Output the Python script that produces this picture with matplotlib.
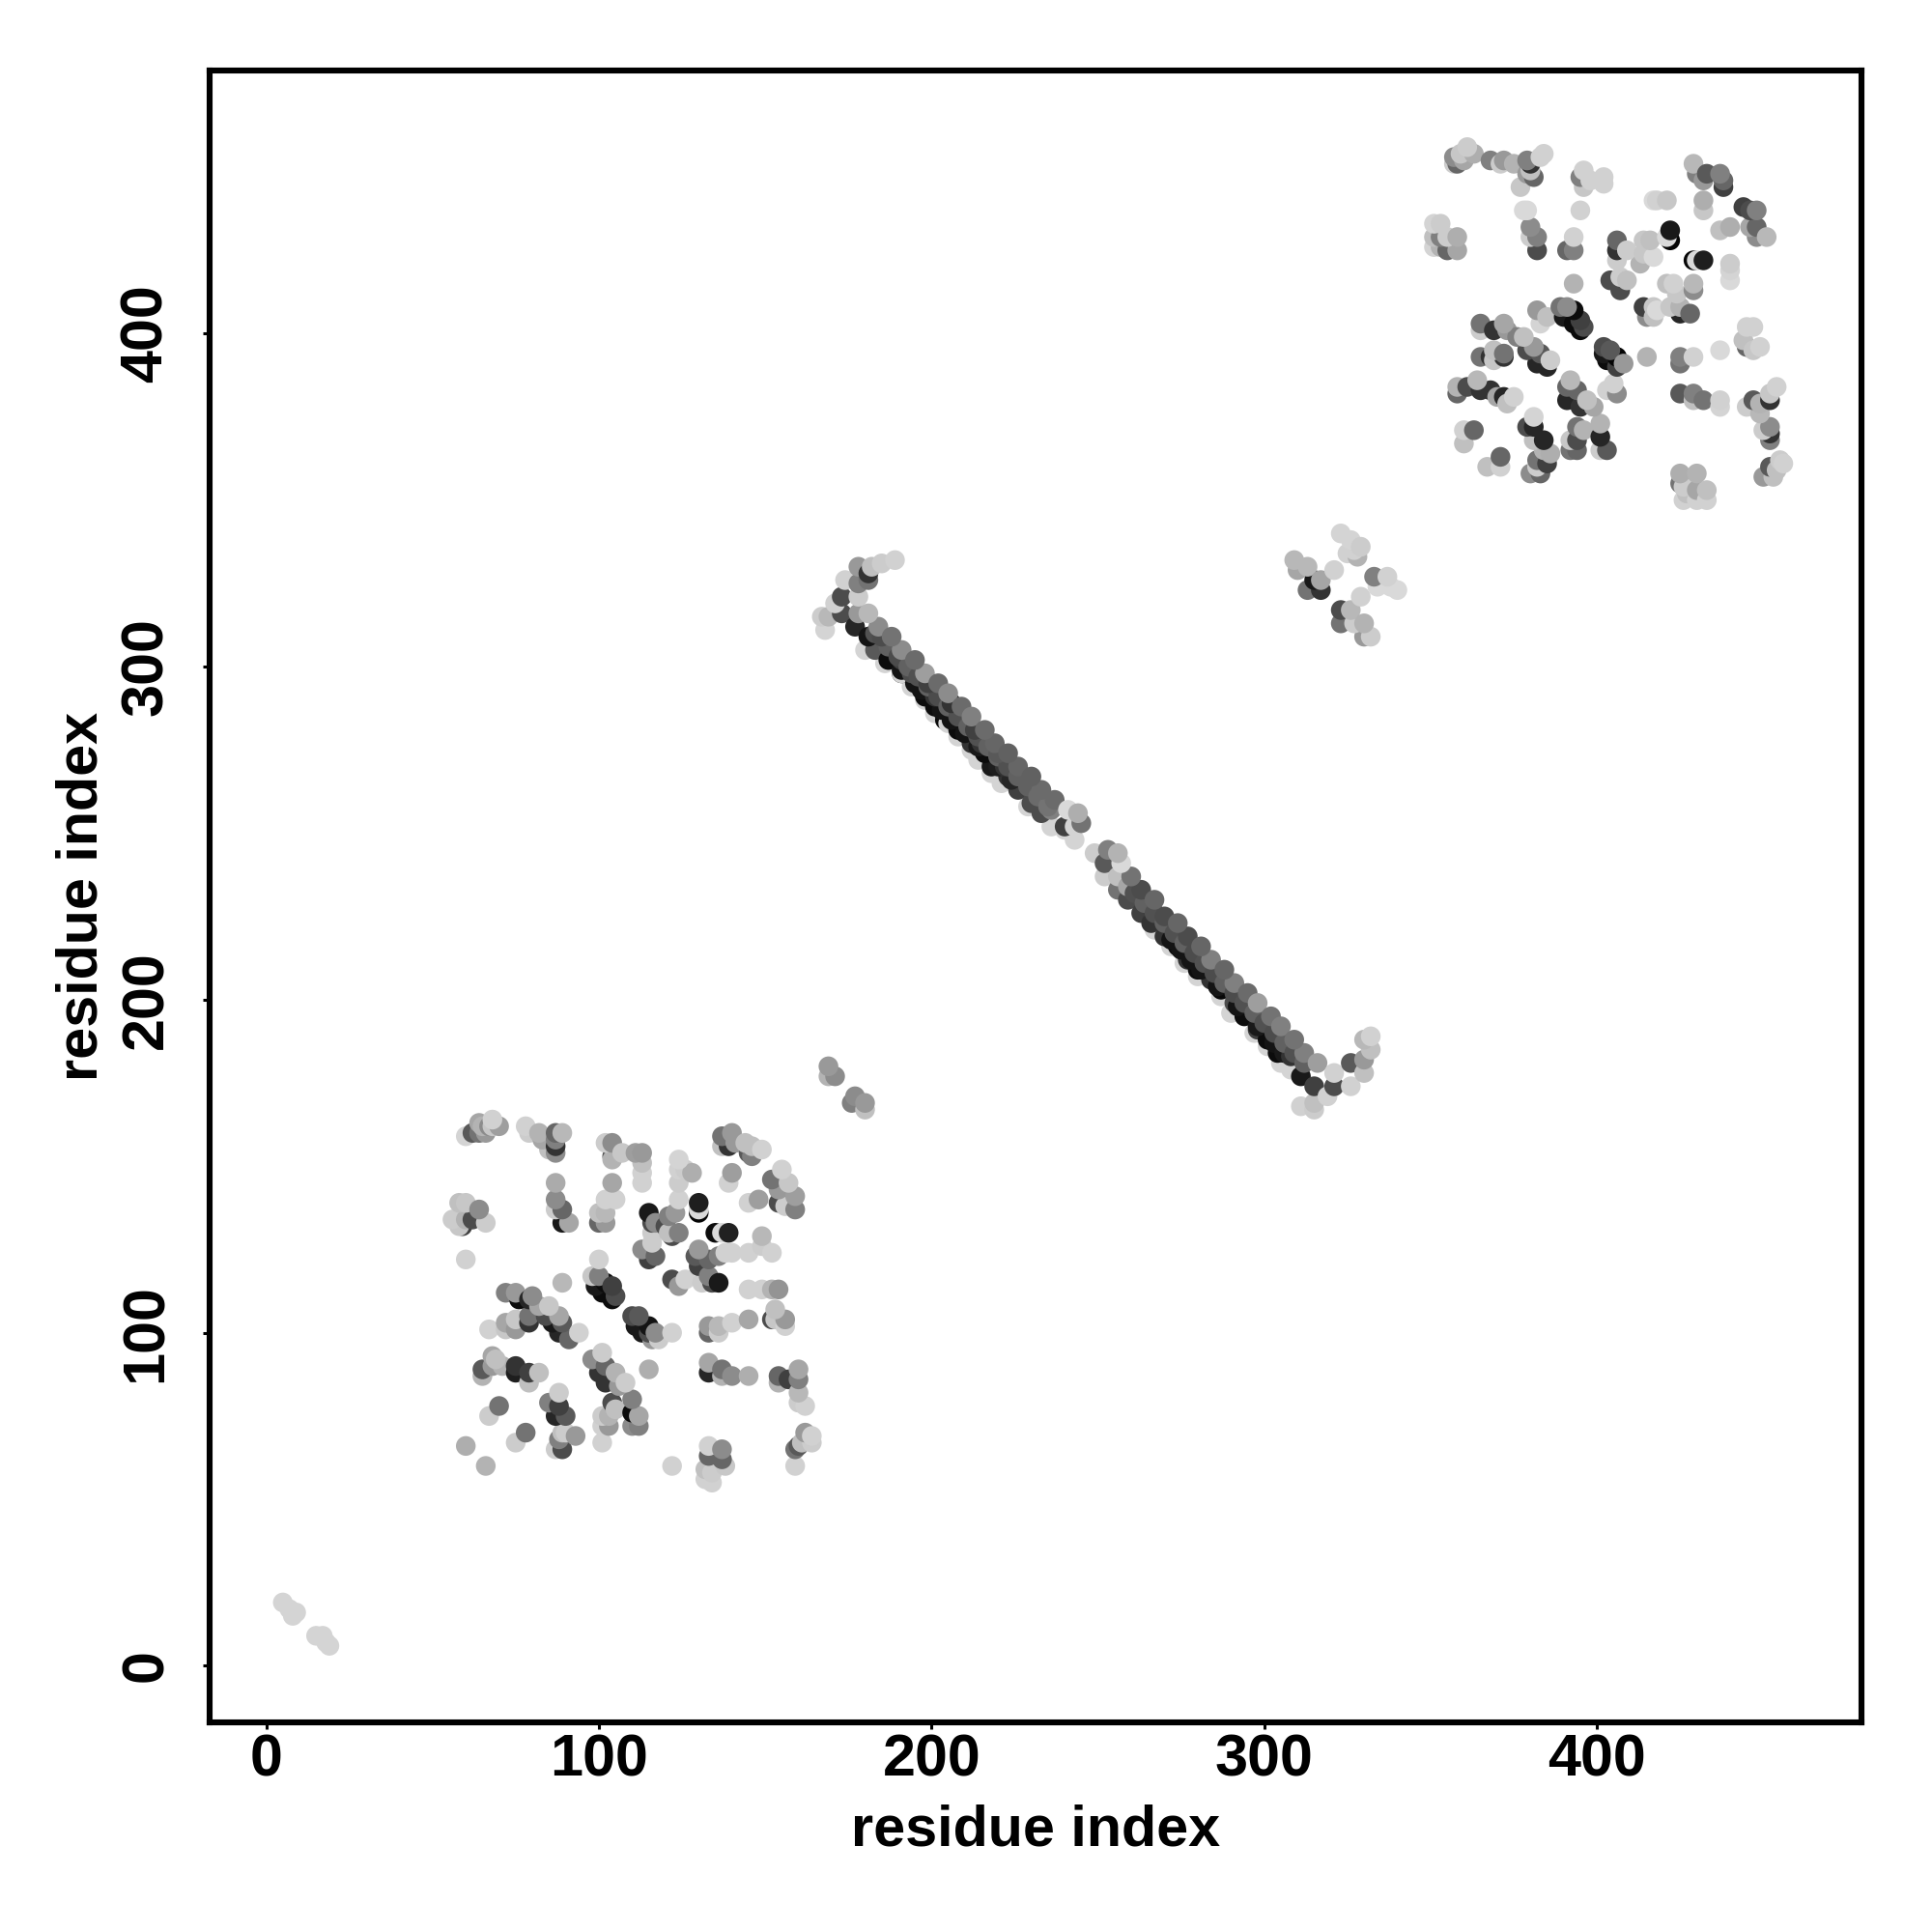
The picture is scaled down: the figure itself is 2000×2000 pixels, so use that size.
import matplotlib
matplotlib.use('Agg')
import matplotlib.pyplot as plt
import numpy as np

plt.rcParams['font.family'] = ['Liberation Sans', 'DejaVu Sans']
plt.rcParams['font.weight'] = 'bold'

# contacts: residue i, residue j, grey level of each point
low_x = [5, 7, 8, 9, 15, 17, 18, 19]
low_y = [19, 17, 15, 16, 9, 9, 7, 6]
low_gray = [.83, .83, .83, .83, .83, .83, .83, .83]

c1_x = [60, 64, 62, 64, 65, 66, 68, 67, 68, 70,
        78, 79, 82, 83, 85, 87, 87, 87, 87, 89,
        104, 102, 104, 104, 107, 111, 113, 113, 113, 113,
        104, 87, 87, 87, 89, 89, 91, 100, 102, 105,
        102, 100, 102, 124, 124, 124, 126, 128, 137, 137,
        140, 139, 141, 144, 145, 146, 146, 149, 140, 139,
        145, 148, 155, 152, 157, 154, 154, 156, 159, 159,
        56, 58, 60, 58, 59, 60, 64, 62, 66, 60,
        100, 89, 130, 130, 130, 115, 116, 117, 116, 121,
        124, 123, 120, 121, 124, 122, 113, 116, 115, 117,
        135, 139, 137, 140, 145, 149, 149, 152, 129, 130,
        133, 136, 138, 130, 133, 131, 134, 136, 122, 124,
        126, 98, 100, 99, 102, 101, 104, 104, 105, 110,
        111, 112, 113, 115, 115, 117, 118, 122, 116, 72,
        75, 76, 80, 79, 82, 85, 84, 88, 86, 89,
        88, 91, 94, 67, 72, 72, 75, 75, 79, 79,
        133, 133, 136, 136, 140, 145, 145, 149, 152, 154,
        153, 153, 156, 156, 152, 68, 65, 65, 68, 69,
        71, 75, 75, 79, 79, 82, 70, 67, 78, 75,
        60, 66, 88, 85, 88, 87, 90, 89, 93, 90,
        88, 87, 89, 98, 101, 102, 100, 105, 102, 108,
        106, 104, 105, 110, 110, 112, 112, 110, 101, 103,
        101, 101, 103, 115, 122, 133, 133, 137, 137, 140,
        145, 154, 154, 157, 160, 160, 160, 160, 162, 133,
        133, 137, 132, 132, 134, 134, 138, 137, 159, 159,
        162, 160, 161, 164, 164]
c1_y = [159, 163, 160, 160, 162, 160, 164, 162, 162, 162,
        162, 160, 160, 158, 155, 154, 156, 160, 158, 160,
        157, 157, 153, 152, 154, 154, 154, 151, 148, 145,
        145, 145, 140, 137, 137, 133, 133, 136, 140, 140,
        136, 133, 133, 152, 145, 149, 149, 148, 159, 156,
        160, 156, 157, 157, 154, 153, 156, 155, 148, 145,
        139, 140, 149, 146, 145, 143, 139, 138, 141, 137,
        134, 139, 139, 132, 132, 134, 137, 134, 133, 122,
        122, 115, 139, 136, 137, 136, 133, 133, 130, 135,
        140, 136, 132, 130, 130, 129, 125, 127, 122, 123,
        130, 130, 130, 124, 124, 129, 126, 124, 123, 125,
        122, 123, 124, 120, 117, 115, 115, 115, 116, 114,
        116, 117, 117, 114, 115, 112, 114, 110, 111, 105,
        102, 105, 100, 102, 100, 100, 98, 100, 98, 112,
        112, 110, 111, 110, 108, 108, 105, 105, 103, 103,
        100, 98, 100, 101, 103, 101, 104, 101, 105, 103,
        102, 100, 102, 100, 103, 104, 113, 113, 113, 113,
        107, 104, 102, 104, 104, 93, 89, 87, 90, 92,
        90, 90, 88, 88, 85, 88, 78, 75, 70, 67,
        66, 60, 82, 79, 78, 75, 75, 70, 69, 70,
        68, 65, 65, 92, 94, 90, 88, 88, 85, 85,
        84, 79, 77, 80, 76, 75, 72, 72, 75, 72,
        72, 67, 75, 89, 60, 91, 88, 89, 87, 87,
        87, 87, 85, 86, 89, 86, 82, 79, 78, 66,
        63, 65, 59, 56, 55, 58, 60, 62, 60, 65,
        70, 66, 67, 69, 67]
c1_gray = [.83, .65, .35, .45, .7, .6, .82, .55, .78, .62,
           .82, .8, .7, .65, .75, .55, .2, .4, .5, .72,
           .55, .8, .3, .7, .78, .62, .6, .75, .82, .82,
           .65, .67, .55, .8, .4, .1, .65, .75, .82, .82,
           .72, .4, .6, .83, .8, .82, .8, .68, .45, .75,
           .6, .2, .6, .75, .35, .5, .75, .82, .62, .82,
           .82, .62, .82, .45, .78, .6, .3, .8, .62, .5,
           .8, .75, .78, .78, .25, .7, .55, .3, .8, .82,
           .82, .72, .12, .02, .85, .1, .3, .55, .8, .5,
           .82, .6, .3, .75, .5, .3, .55, .8, .25, .4,
           .05, .13, .85, .82, .82, .72, .8, .82, .35, .6,
           .4, .5, .82, .25, .5, .8, .3, .1, .3, .6,
           .82, .78, .5, .1, .05, .05, .25, .05, .3, .3,
           .1, .35, .1, .08, .3, .55, .8, .82, .6, .5,
           .6, .05, .55, .15, .65, .78, .3, .65, .1, .35,
           .15, .4, .82, .82, .65, .78, .78, .6, .45, .2,
           .6, .4, .72, .8, .82, .65, .82, .82, .7, .58,
           .75, .78, .82, .6, .3, .65, .35, .7, .6, .75,
           .7, .2, .12, .25, .75, .75, .45, .8, .45, .8,
           .68, .7, .8, .5, .25, .15, .35, .75, .6, .8,
           .5, .8, .3, .55, .8, .4, .2, .7, .2, .8,
           .6, .3, .75, .5, .05, .65, .5, .55, .8, .6,
           .82, .82, .7, .68, .82, .65, .15, .45, .7, .55,
           .68, .4, .7, .25, .65, .5, .72, .8, .82, .82,
           .4, .55, .75, .82, .82, .8, .78, .4, .82, .45,
           .6, .35, .75, .82, .8]

band_a_x = [181, 184, 188, 191, 195, 198, 202, 205, 209, 212,
            216, 219, 223, 226, 230, 233, 237, 241, 244, 245,
            173, 173, 177, 178, 185, 181, 183, 191, 187, 194,
            191, 199, 195, 201, 198, 201, 206, 208, 208, 204,
            213, 212, 215, 216, 220, 218, 222, 223, 226, 230,
            230, 233, 240, 236,
            180, 186, 191, 194, 198, 201, 205, 208, 212, 214,
            218, 221, 229, 236, 240, 243, 243,
            189, 185, 182, 178, 181, 178, 174, 178, 171, 167,
            169, 168, 181,
            183, 187, 190, 193, 196, 199, 202, 205, 208, 211,
            214, 217, 220, 223, 226, 229, 232, 235,
            191, 197, 203, 206, 210, 214, 220, 224]
band_a_y = [316, 312, 309, 305, 302, 298, 295, 292, 288, 285,
            281, 277, 274, 270, 267, 263, 260, 257, 256, 253,
            321, 316, 312, 316, 309, 309, 305, 302, 302, 298,
            298, 295, 295, 291, 291, 288, 289, 285, 281, 284,
            281, 277, 277, 274, 274, 270, 270, 267, 263, 263,
            259, 256, 252, 257,
            305, 301, 298, 294, 290, 286, 283, 279, 275, 272,
            268, 265, 258, 252, 251, 248, 252,
            332, 331, 330, 330, 326, 325, 326, 321, 319, 315,
            315, 311, 328,
            310, 306, 303, 300, 297, 294, 291, 288, 285, 282,
            279, 276, 273, 270, 267, 264, 261, 258,
            299, 293, 287, 284, 280, 276, 270, 266]
band_a_gray = [.72, .55, .45, .55, .42, .62, .42, .55, .42, .5,
               .42, .4, .38, .4, .38, .42, .42, .85, .68, .45,
               .3, .3, .15, .6, .3, .08, .35, .25, .05, .3,
               .05, .25, .08, .2, .05, .05, .2, .25, .05, .05,
               .25, .2, .2, .05, .35, .1, .2, .2, .25, .3,
               .3, .3, .25, .5,
               .83, .83, .83, .83, .83, .83, .83, .83, .83, .83,
               .83, .83, .83, .83, .83, .83, .83,
               .82, .8, .75, .6, .45, .5, .82, .8, .82, .8,
               .72, .83, .2,
               .32, .38, .3, .38, .32, .38, .3, .38, .32, .38,
               .32, .38, .38, .32, .38, .38, .42, .45,
               .08, .08, .08, .08, .08, .1, .12, .15]

band_b_x = [249, 253, 252, 256, 257, 252, 256, 256, 260, 259,
            259, 263, 263, 267, 266, 270, 270, 274, 274, 277,
            277, 281, 280, 284, 284, 288, 287, 291, 291, 295,
            294, 298, 298, 302, 301, 305, 304, 309, 308, 312,
            311, 316, 315,
            267, 272, 276, 280, 287, 290, 297, 301, 305, 308,
            321, 321, 326, 326, 330, 330, 332, 330, 332, 315,
            311, 319, 315,
            261, 264, 267, 270, 273, 276, 279, 282, 285, 288,
            291, 294, 297, 300, 303, 306, 309, 312,
            272, 275, 278, 281, 286, 292, 298, 303, 306]
band_b_y = [244, 245, 241, 244, 241, 237, 237, 233, 237, 234,
            230, 226, 233, 230, 223, 225, 219, 223, 216, 219,
            212, 216, 209, 212, 206, 209, 203, 205, 199, 202,
            195, 199, 191, 195, 188, 192, 184, 188, 183, 184,
            177, 181, 174,
            221, 216, 211, 207, 201, 196, 190, 186, 181, 179,
            178, 174, 174, 181, 178, 182, 185, 188, 189, 169,
            168, 171, 167,
            232, 229, 226, 223, 220, 217, 214, 211, 208, 205,
            202, 199, 196, 193, 190, 187, 184, 181,
            218, 215, 212, 209, 204, 198, 192, 187, 184]
band_b_gray = [.8, .5, .35, .7, .85, .8, .75, .45, .45, .65,
               .3, .25, .3, .4, .2, .3, .2, .4, .05, .3,
               .2, .4, .05, .5, .2, .4, .03, .5, .3, .42,
               .05, .62, .25, .45, .05, .5, .05, .45, .2, .5,
               .1, .62, .25,
               .83, .83, .83, .83, .83, .83, .83, .83, .83, .83,
               .82, .3, .82, .35, .75, .6, .75, .72, .82, .75,
               .82, .82, .8,
               .32, .38, .32, .38, .32, .38, .3, .32, .3, .38,
               .3, .32, .38, .32, .3, .38, .32, .38,
               .08, .08, .08, .08, .08, .08, .1, .08, .1]

small_x = [169, 171, 169, 177, 176, 180, 180]
small_y = [180, 177, 177, 171, 169, 169, 167]
small_gray = [.6, .55, .7, .55, .5, .6, .75]

mid_x = [309, 313, 310, 313, 317, 315, 317, 321, 323, 323, 326, 327, 330, 332, 330, 329,
         323, 326, 327, 325, 329, 328, 333, 337, 334, 338, 340]
mid_y = [332, 330, 329, 323, 326, 326, 323, 329, 317, 313, 317, 313, 313, 309, 309, 321,
         340, 338, 335, 334, 336, 333, 327, 327, 324, 324, 323]
mid_gray = [.72, .72, .65, .45, .65, .1, .2, .82, .3, .45, .72, .8, .7, .8, .6, .82,
            .83, .83, .82, .82, .8, .7, .5, .82, .85, .85, .85]

c2_x = [357, 357, 358, 359, 361, 360, 363, 368, 371, 372,
        375, 377, 379, 380, 381, 379, 380, 383, 384, 396,
        395, 396, 398, 402, 402, 429, 430, 433, 432, 437,
        438, 438, 417, 421, 418, 432, 432, 379, 378, 395,
        444, 448, 446, 437, 440, 446, 448, 448, 451, 351,
        353, 351, 351, 353, 353, 355, 355, 358, 358, 380,
        380, 382, 382, 393, 391, 393, 393, 422, 422, 421,
        429, 432, 430, 440, 440, 440, 406, 406, 409, 406,
        414, 416, 414, 413, 417, 404, 407, 409, 407, 429,
        421, 423, 424, 429, 414, 415, 417, 418, 417, 422,
        425, 425, 428, 445, 447, 444, 445, 447, 449, 437,
        429, 425, 425, 415, 382, 383, 385, 389, 391, 390,
        393, 393, 395, 395, 396, 402, 402, 404, 403, 406,
        406, 408, 365, 365, 369, 373, 372, 376, 378, 379,
        381, 383, 382, 385, 386, 365, 368, 369, 369, 372,
        372, 403, 406, 405, 425, 429, 429, 432, 437, 437,
        358, 358, 361, 364, 365, 368, 370, 372, 373, 375,
        360, 360, 363, 371, 367, 371, 381, 379, 381, 384,
        381, 386, 384, 382, 385, 380, 383, 382, 391, 392,
        394, 391, 397, 399, 395, 394, 396, 401, 401, 403,
        401, 392, 394, 392, 394, 454, 452, 447, 445, 449,
        452, 449, 452, 452, 452, 450, 450, 453, 452, 455,
        456, 454, 425, 430, 425, 426, 427, 430, 433, 433,
        430, 426]
c2_y = [451, 453, 451, 454, 456, 452, 454, 452, 451, 452,
        451, 444, 452, 451, 447, 448, 449, 453, 454, 449,
        447, 444, 446, 445, 447, 451, 448, 448, 446, 448,
        444, 446, 440, 440, 440, 440, 437, 437, 437, 437,
        438, 437, 437, 431, 432, 432, 432, 429, 429, 433,
        433, 429, 426, 429, 426, 429, 425, 429, 425, 432,
        429, 429, 425, 429, 425, 425, 415, 431, 428, 429,
        422, 422, 422, 421, 419, 416, 428, 425, 425, 422,
        428, 428, 424, 421, 423, 416, 413, 416, 417, 415,
        415, 415, 412, 413, 408, 405, 408, 407, 405, 408,
        408, 406, 406, 402, 402, 398, 396, 395, 396, 395,
        393, 393, 391, 393, 407, 403, 405, 408, 408, 405,
        407, 403, 404, 401, 402, 396, 394, 395, 392, 393,
        390, 391, 403, 401, 401, 401, 403, 399, 399, 395,
        396, 394, 391, 390, 392, 393, 393, 395, 392, 394,
        393, 383, 382, 385, 382, 382, 380, 380, 380, 378,
        382, 384, 384, 386, 383, 383, 381, 381, 379, 381,
        367, 371, 371, 363, 360, 360, 375, 372, 372, 368,
        368, 364, 365, 362, 361, 358, 358, 360, 384, 386,
        383, 380, 380, 378, 378, 372, 371, 373, 369, 365,
        365, 368, 368, 365, 365, 384, 382, 380, 378, 379,
        380, 376, 372, 370, 368, 371, 357, 357, 360, 362,
        361, 359, 358, 358, 355, 350, 352, 353, 353, 350,
        350, 354]
c2_gray = [.8, .55, .4, .78, .8, .65, .68, .5, .8, .6,
           .7, .78, .5, .2, .4, .6, .75, .82, .82, .82,
           .5, .78, .82, .82, .82, .72, .5, .35, .6, .5,
           .25, .4, .85, .78, .82, .68, .78, .85, .85, .82,
           .25, .5, .3, .75, .68, .65, .4, .55, .72, .83,
           .8, .75, .83, .5, .7, .8, .4, .68, .65, .55,
           .8, .5, .3, .82, .4, .5, .7, .1, .02, .85,
           .03, .12, .85, .8, .83, .85, .4, .2, .8, .8,
           .78, .75, .78, .7, .85, .3, .3, .75, .8, .72,
           .75, .82, .78, .55, .25, .55, .78, .85, .75, .78,
           .7, .15, .4, .82, .82, .75, .4, .78, .82, .85,
           .82, .5, .45, .7, .6, .83, .75, .45, .55, .1,
           .05, .05, .25, .05, .3, .3, .1, .35, .05, .02,
           .25, .6, .45, .8, .2, .6, .65, .5, .75, .3,
           .6, .35, .15, .15, .8, .45, .2, .75, .78, .45,
           .2, .82, .55, .82, .35, .5, .75, .45, .82, .83,
           .4, .7, .3, .72, .2, .2, .65, .15, .75, .82,
           .75, .82, .4, .4, .75, .82, .83, .3, .15, .15,
           .75, .68, .7, .45, .25, .55, .4, .8, .4, .72,
           .4, .15, .75, .65, .2, .45, .7, .7, .15, .35,
           .8, .78, .3, .45, .4, .82, .78, .35, .8, .7,
           .2, .72, .55, .2, .5, .8, .6, .75, .35, .8,
           .82, .75, .68, .7, .45, .82, .75, .65, .75, .82,
           .82, .8]

x = np.array(low_x + c1_x + band_a_x + band_b_x + small_x + mid_x + c2_x)
y = np.array(low_y + c1_y + band_a_y + band_b_y + small_y + mid_y + c2_y)
gray = np.array(low_gray + c1_gray + band_a_gray + band_b_gray + small_gray + mid_gray + c2_gray)

# upper right points sit on top, in the two big blocks the pale ones win close calls
in_block = (x < 170) & (y < 170) | (x > 345)
order = np.argsort(x + y + 2.5 * gray * in_block, kind='stable')

fig = plt.figure(figsize=(10, 10), dpi=200)
ax = fig.add_axes([217 / 2000, 1 - 1783 / 2000, 1710 / 2000, 1710 / 2000])
ax.scatter(x[order], y[order], c=gray[order], cmap='gray', vmin=0, vmax=1,
           s=54, linewidths=0, zorder=3)

ax.set_xlim(-17, 479.5)
ax.set_ylim(-17, 479)
ax.set_xticks([0, 100, 200, 300, 400])
ax.set_yticks([0, 100, 200, 300, 400])
ax.tick_params(length=2.4, width=1.1, labelsize=22)
ax.tick_params(axis='x', pad=1.9)
ax.tick_params(axis='y', pad=10.6)
for lab in ax.get_yticklabels():
    lab.set_rotation(90)
    lab.set_va('center')
for sp in ax.spines.values():
    sp.set_linewidth(2.2)

ax.set_xlabel('residue index', fontsize=21.4, fontweight='bold', labelpad=5.5)
ax.set_ylabel('residue index', fontsize=21.4, fontweight='bold', labelpad=4)

plt.savefig('out.png', dpi=200)
